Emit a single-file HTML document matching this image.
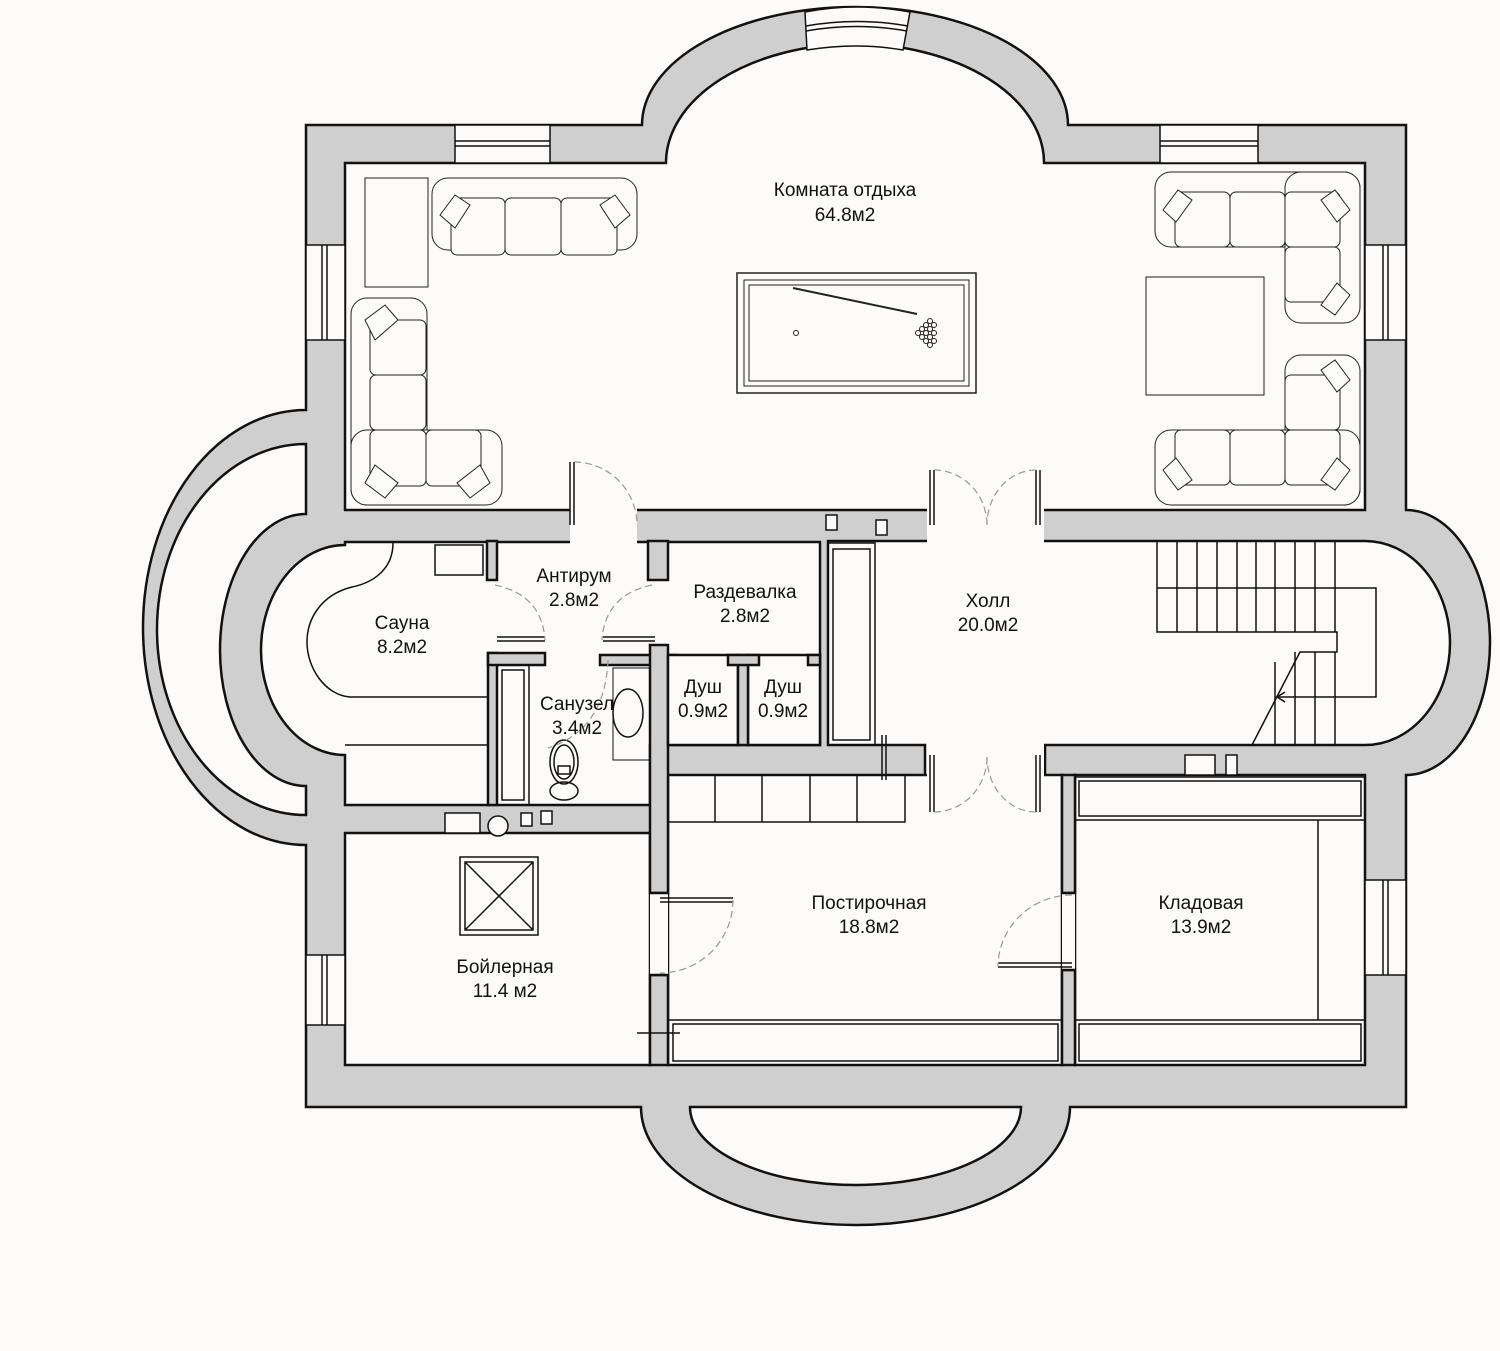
<!DOCTYPE html>
<html><head><meta charset="utf-8"><style>
html,body{margin:0;padding:0;background:#fcfbf9;}
svg{display:block;}
text{font-family:"Liberation Sans",sans-serif;font-size:19px;fill:#111;text-anchor:middle;}
</style></head><body>
<svg width="1500" height="1351" viewBox="0 0 1500 1351" xmlns="http://www.w3.org/2000/svg">
<rect width="1500" height="1351" fill="#fcfbf9"/>
<g stroke="#111" stroke-width="2.5" stroke-linejoin="miter">
<path fill="#cfcfcf" d="M306,125 H642 A213 118 0 0 1 1068,125 H1406 V510 A84 132.5 0 0 1 1406,775 V1107 H1070 A214.5 118 0 0 1 641,1107 H306 V845 A163 217.5 0 0 1 306,410 Z"/>
<path fill="#fcfbf9" d="M306,444 A149 185.5 0 0 0 306,815 V786 A86 136 0 0 1 306,514 Z"/>
<path fill="#fcfbf9" d="M690,1107 A165.5 78 0 0 0 1021,1107 Z"/>
<path fill="#fcfbf9" d="M345,163 H666 A189 119 0 0 1 1044,163 H1365 V510 H345 Z"/>
<path fill="#fcfbf9" d="M345,542 H820 V745 H650 V805 H345 V755 A84 105 0 0 1 345,545 Z"/>
<path fill="#fcfbf9" d="M828,541 H1365 A85 102 0 0 1 1365,745 H1045 V776 H925 V745 H828 Z"/>
<rect fill="#fcfbf9" x="345" y="833" width="305" height="232"/>
<rect fill="#fcfbf9" x="668" y="775" width="394" height="290"/>
<rect fill="#fcfbf9" x="1075" y="775" width="290" height="290"/>
<rect fill="#cfcfcf" x="487" y="541" width="10" height="39"/>
<rect fill="#cfcfcf" x="648" y="541" width="20" height="39"/>
<rect fill="#cfcfcf" x="488" y="653" width="9" height="152"/>
<rect fill="#cfcfcf" x="488" y="653" width="57" height="12"/>
<rect fill="#cfcfcf" x="600" y="655" width="78" height="10"/>
<rect fill="#cfcfcf" x="650" y="645" width="18" height="248"/>
<rect fill="#fcfbf9" x="668" y="655" width="70" height="90"/>
<rect fill="#fcfbf9" x="748" y="655" width="72" height="90"/>
<rect fill="#cfcfcf" x="738" y="655" width="10" height="90"/>
<rect fill="#cfcfcf" x="728" y="655" width="31" height="10"/>
<rect fill="#cfcfcf" x="808" y="655" width="12" height="10"/>
<rect fill="#cfcfcf" x="650" y="975" width="18" height="90"/>
<rect fill="#cfcfcf" x="1062" y="775" width="13" height="118"/>
<rect fill="#cfcfcf" x="1062" y="970" width="13" height="95"/>
</g>
<g fill="#fcfbf9">
<rect x="570" y="507" width="67" height="37"/>
<rect x="927" y="507" width="117" height="37"/>
<rect x="927" y="743" width="117" height="36"/>
<rect x="650" y="894" width="18" height="80"/>
<rect x="1062" y="894" width="13" height="75"/>
</g>
<g stroke="#111" stroke-width="2.5">
<line x1="650" y1="893" x2="668" y2="893"/><line x1="650" y1="975" x2="668" y2="975"/>
<line x1="1062" y1="893" x2="1075" y2="893"/><line x1="1062" y1="970" x2="1075" y2="970"/>
</g>
<g stroke="#111" stroke-width="1.5" fill="#fcfbf9">
<rect x="455" y="125" width="95" height="38"/><line x1="455" y1="141" x2="550" y2="141"/><line x1="455" y1="146" x2="550" y2="146"/>
<rect x="1160" y="125" width="98" height="38"/><line x1="1160" y1="141" x2="1258" y2="141"/><line x1="1160" y1="146" x2="1258" y2="146"/>
<rect x="306" y="245" width="39" height="95"/><line x1="322" y1="245" x2="322" y2="340"/><line x1="327" y1="245" x2="327" y2="340"/>
<rect x="1365" y="245" width="41" height="95"/><line x1="1383" y1="245" x2="1383" y2="340"/><line x1="1388" y1="245" x2="1388" y2="340"/>
<rect x="306" y="955" width="39" height="70"/><line x1="322" y1="955" x2="322" y2="1025"/><line x1="327" y1="955" x2="327" y2="1025"/>
<rect x="1365" y="880" width="41" height="95"/><line x1="1383" y1="880" x2="1383" y2="975"/><line x1="1388" y1="880" x2="1388" y2="975"/>
<path d="M805,12 Q857,2 910,12 L903,50 Q857,42 807,50 Z"/>
<path d="M806,26 Q857,17 908,26" fill="none"/><path d="M806,31 Q857,22 907,31" fill="none"/>
</g>
<g stroke="#111" stroke-width="1.5" fill="none">
<path d="M1157,542 V632 H1337 V652 H1300 L1252,745"/>
<path d="M1157,588 H1376 V697 H1277"/>
<path d="M1285,692 L1277,697 L1285,702"/>
<line x1="1177" y1="542" x2="1177" y2="632"/><line x1="1197" y1="542" x2="1197" y2="632"/><line x1="1217" y1="542" x2="1217" y2="632"/><line x1="1237" y1="542" x2="1237" y2="632"/><line x1="1256" y1="542" x2="1256" y2="632"/>
<line x1="1275" y1="542" x2="1275" y2="632"/><line x1="1295" y1="542" x2="1295" y2="632"/><line x1="1315" y1="542" x2="1315" y2="632"/><line x1="1335" y1="542" x2="1335" y2="632"/>
<line x1="1275" y1="662" x2="1275" y2="745"/><line x1="1295" y1="652" x2="1295" y2="745"/><line x1="1315" y1="652" x2="1315" y2="745"/><line x1="1335" y1="652" x2="1335" y2="745"/>
<rect x="668" y="775" width="237" height="47"/>
<line x1="715" y1="775" x2="715" y2="822"/><line x1="762" y1="775" x2="762" y2="822"/><line x1="810" y1="775" x2="810" y2="822"/><line x1="857" y1="775" x2="857" y2="822"/>
<line x1="882" y1="735" x2="882" y2="780"/><line x1="886" y1="735" x2="886" y2="780"/>
<rect x="828" y="543" width="47" height="202"/><rect x="833" y="549" width="37" height="191"/>
<rect x="668" y="1020" width="394" height="45"/><rect x="673" y="1024" width="385" height="37"/>
<rect x="1075" y="777" width="290" height="43"/><rect x="1079" y="781" width="282" height="35"/>
<rect x="1075" y="1020" width="290" height="45"/><rect x="1079" y="1024" width="282" height="37"/>
<line x1="1318" y1="820" x2="1318" y2="1020"/>
<line x1="637" y1="1033" x2="680" y2="1033"/>
<path d="M393,543 C393,570 372,583 352,587 C320,595 307,620 307,642 C307,668 325,695 350,697 H487"/>
<line x1="345" y1="745" x2="487" y2="745"/>
<rect x="435" y="545" width="48" height="30"/>
<rect x="497" y="665" width="32" height="140"/><rect x="502" y="670" width="22" height="130"/>
<ellipse cx="564" cy="762" rx="14" ry="22"/><ellipse cx="564" cy="762" rx="10" ry="17"/>
<ellipse cx="564" cy="791" rx="14" ry="9"/>
<rect x="558" y="766" width="12" height="8"/>
<rect x="613" y="668" width="37" height="92" stroke-width="1"/>
<ellipse cx="628" cy="713" rx="15" ry="24"/>
<rect x="460" y="857" width="78" height="78"/><rect x="465" y="862" width="68" height="68"/>
<line x1="465" y1="862" x2="533" y2="930"/><line x1="533" y1="862" x2="465" y2="930"/>
<rect x="445" y="813" width="35" height="20" fill="#fcfbf9"/>
<circle cx="498" cy="826" r="10" fill="#fcfbf9"/>
<rect x="521" y="813" width="11" height="13" fill="#fcfbf9"/><rect x="541" y="811" width="11" height="13" fill="#fcfbf9"/>
<rect x="826" y="515" width="11" height="15" fill="#fcfbf9"/><rect x="876" y="520" width="11" height="15" fill="#fcfbf9"/>
<rect x="1185" y="755" width="30" height="20" fill="#fcfbf9"/><rect x="1226" y="755" width="11" height="20" fill="#fcfbf9"/>
<line x1="570" y1="462" x2="570" y2="525"/><line x1="574" y1="462" x2="574" y2="525"/>
<line x1="930" y1="470" x2="930" y2="525"/><line x1="934" y1="470" x2="934" y2="525"/>
<line x1="1036" y1="470" x2="1036" y2="525"/><line x1="1040" y1="470" x2="1040" y2="525"/>
<line x1="930" y1="755" x2="930" y2="812"/><line x1="934" y1="755" x2="934" y2="812"/>
<line x1="1036" y1="755" x2="1036" y2="812"/><line x1="1040" y1="755" x2="1040" y2="812"/>
<line x1="497" y1="637" x2="545" y2="637"/><line x1="497" y1="641" x2="545" y2="641"/>
<line x1="603" y1="637" x2="655" y2="637"/><line x1="603" y1="641" x2="655" y2="641"/>
<line x1="660" y1="898" x2="733" y2="898"/><line x1="660" y1="902" x2="733" y2="902"/>
<line x1="998" y1="963" x2="1072" y2="963"/><line x1="998" y1="967" x2="1072" y2="967"/>
</g>
<g stroke="#999" stroke-width="1.2" fill="none" stroke-dasharray="7 4">
<path d="M574,462 A63 63 0 0 1 637,525"/>
<path d="M934,470 A53 55 0 0 1 987,525"/><path d="M1036,470 A49 55 0 0 0 987,525"/>
<path d="M934,812 A53 55 0 0 0 987,757"/><path d="M1036,812 A49 55 0 0 1 987,757"/>
<path d="M495,585 Q542,595 545,640"/>
<path d="M652,585 Q605,595 602,640"/>
<path d="M608,660 Q605,730 548,748"/>
<path d="M733,900 A73 73 0 0 1 660,973"/>
<path d="M1072,895 A74 72 0 0 0 998,967"/>
</g>
<g stroke="#222" stroke-width="1" fill="#fcfbf9">
<rect x="365" y="178" width="63" height="109"/>
<rect x="432" y="178" width="205" height="72" rx="16"/>
<rect x="451" y="198" width="54" height="57" rx="6"/><rect x="505" y="198" width="56" height="57" rx="6"/><rect x="561" y="198" width="56" height="57" rx="6"/>
<path d="M440,215 L455,195 L470,205 L455,228 Z"/><path d="M630,215 L615,195 L600,205 L615,228 Z"/>
<rect x="351" y="298" width="76" height="207" rx="16"/>
<rect x="351" y="430" width="151" height="75" rx="16"/>
<rect x="370" y="320" width="56" height="55" rx="6"/><rect x="370" y="375" width="56" height="55" rx="6"/><rect x="370" y="430" width="56" height="56" rx="6"/><rect x="426" y="430" width="55" height="56" rx="6"/>
<path d="M365,320 L385,305 L398,320 L375,340 Z"/><path d="M365,483 L385,498 L398,483 L375,465 Z"/><path d="M490,483 L470,498 L457,483 L480,465 Z"/>
<rect x="1155" y="172" width="205" height="75" rx="16"/>
<rect x="1285" y="172" width="75" height="151" rx="16"/>
<rect x="1175" y="192" width="55" height="55" rx="6"/><rect x="1230" y="192" width="55" height="55" rx="6"/><rect x="1285" y="192" width="55" height="55" rx="6"/><rect x="1285" y="247" width="55" height="55" rx="6"/>
<path d="M1163,210 L1178,190 L1192,200 L1176,222 Z"/><path d="M1350,210 L1335,190 L1321,200 L1337,222 Z"/><path d="M1350,295 L1335,315 L1321,305 L1337,283 Z"/>
<rect x="1285" y="355" width="75" height="150" rx="16"/>
<rect x="1155" y="430" width="205" height="75" rx="16"/>
<rect x="1285" y="375" width="55" height="55" rx="6"/><rect x="1175" y="430" width="55" height="55" rx="6"/><rect x="1230" y="430" width="55" height="55" rx="6"/><rect x="1285" y="430" width="55" height="55" rx="6"/>
<path d="M1350,380 L1335,360 L1321,370 L1337,392 Z"/><path d="M1163,470 L1178,490 L1192,480 L1176,458 Z"/><path d="M1350,470 L1335,490 L1321,480 L1337,458 Z"/>
<rect x="1146" y="277" width="118" height="118"/>
<rect x="737" y="273" width="239" height="120" stroke-width="1.5"/>
<rect x="744" y="280" width="225" height="106"/>
<rect x="749" y="285" width="215" height="96"/>
<line x1="793" y1="288" x2="917" y2="314" stroke-width="2"/>
<circle cx="796" cy="333" r="2.5"/>
<circle cx="918" cy="333" r="2.5"/><circle cx="922" cy="329" r="2.5"/><circle cx="922" cy="337" r="2.5"/><circle cx="926" cy="325" r="2.5"/><circle cx="926" cy="333" r="2.5"/><circle cx="926" cy="341" r="2.5"/><circle cx="930" cy="321" r="2.5"/><circle cx="930" cy="329" r="2.5"/><circle cx="930" cy="337" r="2.5"/><circle cx="930" cy="345" r="2.5"/><circle cx="934" cy="325" r="2.5"/><circle cx="934" cy="333" r="2.5"/><circle cx="934" cy="341" r="2.5"/>
</g>
<text x="845" y="196">Комната отдыха</text><text x="845" y="221">64.8м2</text>
<text x="574" y="582">Антирум</text><text x="574" y="606">2.8м2</text>
<text x="402" y="629">Сауна</text><text x="402" y="653">8.2м2</text>
<text x="745" y="598">Раздевалка</text><text x="745" y="622">2.8м2</text>
<text x="988" y="607">Холл</text><text x="988" y="631">20.0м2</text>
<text x="577" y="710">Санузел</text><text x="577" y="734">3.4м2</text>
<text x="703" y="693">Душ</text><text x="703" y="717">0.9м2</text>
<text x="783" y="693">Душ</text><text x="783" y="717">0.9м2</text>
<text x="869" y="909">Постирочная</text><text x="869" y="933">18.8м2</text>
<text x="1201" y="909">Кладовая</text><text x="1201" y="933">13.9м2</text>
<text x="505" y="973">Бойлерная</text><text x="505" y="997">11.4 м2</text>
</svg>
</body></html>
